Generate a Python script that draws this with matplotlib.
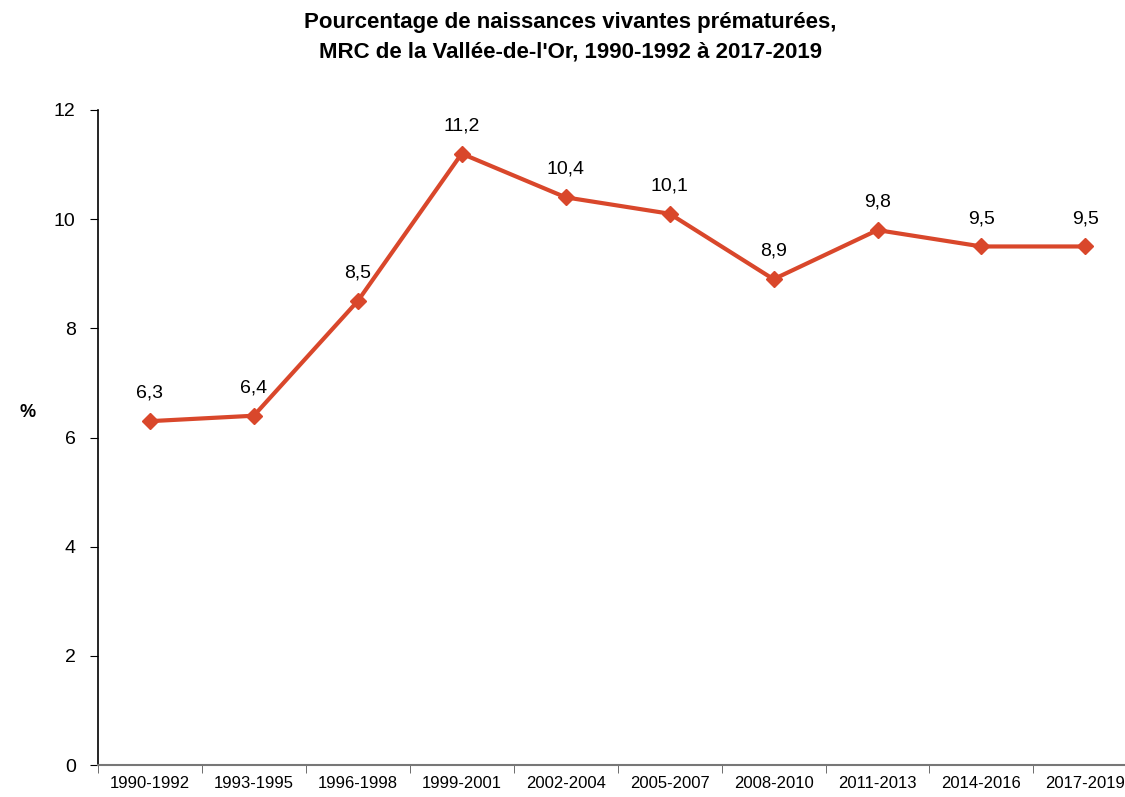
import matplotlib
matplotlib.use("Agg")
import matplotlib.pyplot as plt
from matplotlib import font_manager

periodes = ["1990-1992", "1993-1995", "1996-1998", "1999-2001", "2002-2004",
            "2005-2007", "2008-2010", "2011-2013", "2014-2016", "2017-2019"]
pourcentages = [6.3, 6.4, 8.5, 11.2, 10.4, 10.1, 8.9, 9.8, 9.5, 9.5]
etiquettes = ["6,3", "6,4", "8,5", "11,2", "10,4", "10,1", "8,9", "9,8", "9,5", "9,5"]

noms = {f.name for f in font_manager.fontManager.ttflist}
police = "Liberation Sans Narrow" if "Liberation Sans Narrow" in noms else "Liberation Sans"
plt.rcParams["font.family"] = [police, "DejaVu Sans"]

fig = plt.figure(figsize=(11.25, 7.97), dpi=100)
ax = fig.add_axes([0.087, 0.040, 0.924, 0.822])

x = list(range(len(periodes)))
ax.plot(x, pourcentages, color="#D9472B", lw=3, marker="D", ms=8, zorder=3)
for xi, yi, t in zip(x, pourcentages, etiquettes):
    ax.annotate(t, (xi, yi), xytext=(0, 14), textcoords="offset points",
                ha="center", va="bottom", fontsize=14)

ax.set_xlim(-0.5, len(periodes) - 0.5)
ax.set_ylim(0, 12)
ax.set_yticks(range(0, 13, 2))
ax.set_xticks(x)
ax.set_xticklabels(periodes, fontsize=12)
ax.set_xticks([i + 0.5 for i in range(-1, len(periodes))], minor=True)
ax.tick_params(axis="x", which="major", length=0, pad=8)
ax.tick_params(axis="x", which="minor", length=6, color="#555555")
ax.tick_params(axis="y", labelsize=14, length=6, pad=10)
for s in ["top", "right"]:
    ax.spines[s].set_visible(False)
ax.spines["bottom"].set_color("#777777")
ax.spines["bottom"].set_linewidth(1.5)
ax.spines["left"].set_linewidth(1.2)

fig.text(0.017, 0.483, "%", fontsize=13, fontweight="bold", ha="left", va="center")
fig.suptitle("Pourcentage de naissances vivantes prématurées,\nMRC de la Vallée-de-l'Or, 1990-1992 à 2017-2019",
             x=0.507, y=0.985, fontsize=16, fontweight="bold", linespacing=1.55)

fig.savefig("out.png", dpi=100)
